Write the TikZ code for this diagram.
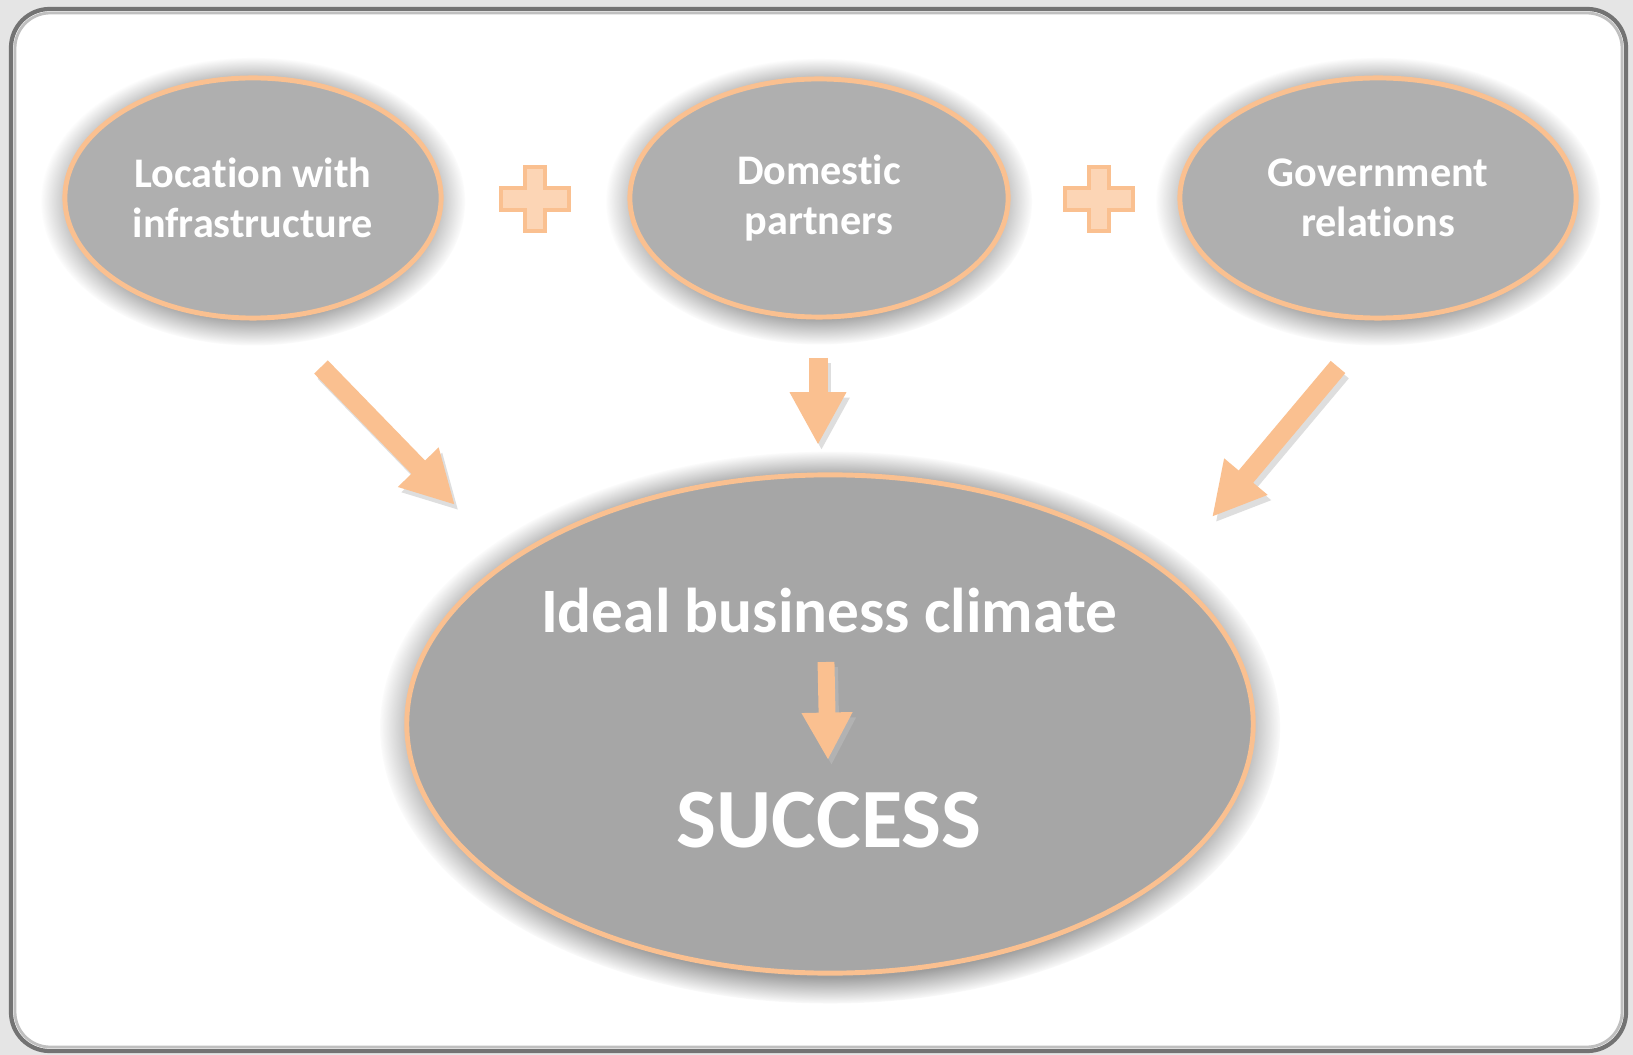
\documentclass[tikz,border=0pt]{standalone}
\usepackage{fontspec}
\setmainfont{Carlito}[Ligatures=NoCommon]
\usetikzlibrary{shapes.geometric,arrows.meta,fadings,backgrounds}
\definecolor{peach}{HTML}{FAC090}
\definecolor{peachlight}{HTML}{FCD5B5}
\definecolor{bubblegray}{HTML}{AFAFAF}
\definecolor{biggray}{HTML}{A6A6A6}
\tikzset{
  bubble/.style={ellipse, draw=peach, line width=1.4pt, fill=bubblegray, text=white,
    font=\bfseries\fontsize{12}{14.4}\selectfont, align=center, inner sep=0pt},
  halo/.style={fill=black!38, path fading=circle with fuzzy edge 20 percent},
  flow/.style={draw=peach, line width=5.4pt, -{Triangle[width=15pt,length=15pt]}},
  flowshade/.style={flow, draw=black!13, transform canvas={shift={(1pt,-1.5pt)}}},
  plusbox/.style={draw=peach, fill=peachlight, line width=1.4pt},
  bigtext/.style={text=white, anchor=base, inner sep=0pt}
}
\begin{document}
\begin{tikzpicture}[x=.01cm,y=-.01cm]
  \begin{scope}[on background layer]
    \useasboundingbox (0,0) rectangle (1633,1055);
    \fill[black!10] (0,0) rectangle (1633,1055);
    \draw[black!55, line width=1.2pt, fill=white, rounded corners=11pt] (11,9) rectangle (1626,1051);
    \draw[black!25, line width=.8pt, rounded corners=10pt] (15,13) rectangle (1622,1047);
  \end{scope}

  % the three factors
  \node[bubble, minimum width=3.76cm, minimum height=2.4cm] (location) at (253,198) {Location with\\infrastructure};
  \node[bubble, minimum width=3.78cm, minimum height=2.38cm] (partners) at (819,198) {Domestic\\partners};
  \node[bubble, minimum width=3.96cm, minimum height=2.4cm] (relations) at (1378,198) {Government\\relations};
  \foreach \cx in {535,1099}
    \draw[plusbox] (\cx-34,188) -- (\cx-10,188) -- (\cx-10,167) -- (\cx+10,167) -- (\cx+10,188) -- (\cx+34,188)
      -- (\cx+34,210) -- (\cx+10,210) -- (\cx+10,231) -- (\cx-10,231) -- (\cx-10,210) -- (\cx-34,210) -- cycle;

  % the result
  \node[bubble, fill=biggray, minimum width=8.46cm, minimum height=4.98cm] (climate) at (830,724) {};
  \node[bigtext, font=\bfseries\fontsize{18}{21.6}\selectfont] (ideal) at (829,633) {Ideal business climate};
  \node[bigtext, font=\bfseries\fontsize{24}{28.8}\selectfont] (success) at (829,847) {SUCCESS};

  % soft shadows behind the bubbles
  \begin{scope}[on background layer]
    \foreach \n/\rx/\ry in {location/212/144,partners/213/143,relations/222/144}
      \fill[halo] ([yshift=-1pt]\n.center) ellipse ({\rx} and {\ry});
    \fill[halo, path fading=circle with fuzzy edge 10 percent] ([yshift=-1pt]climate.center) ellipse (450 and 276);
  \end{scope}

  \coordinate (la) at (321,367); \coordinate (lb) at (455,505);
  \coordinate (ma) at (818,358); \coordinate (mb) at (818,445);
  \coordinate (ra) at (1338,367); \coordinate (rb) at (1212,517);
  \coordinate (ia) at (826,662); \coordinate (ib) at (828,760);
  \foreach \a/\b in {la/lb,ma/mb,ra/rb} {
    \draw[flowshade] (\a) -- (\b);
    \draw[flow] (\a) -- (\b);
  }
  \draw[flowshade, line width=4.8pt, -{Triangle[width=13.5pt,length=13.5pt]}, draw=black!30] (ia) -- (ib);
  \draw[flow, line width=4.8pt, -{Triangle[width=13.5pt,length=13.5pt]}] (ia) -- (ib);
\end{tikzpicture}
\end{document}
